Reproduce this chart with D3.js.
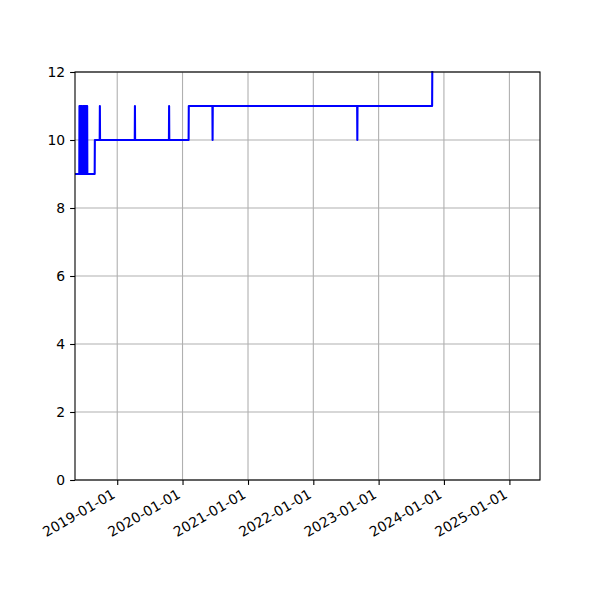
<!DOCTYPE html>
<html>
<head>
<meta charset="utf-8">
<script src="https://cdn.jsdelivr.net/npm/d3@7"></script>
<style>
  body { margin: 0; background: #fff; }
  svg { display: block; }
  text { font-family: "DejaVu Sans", sans-serif; font-size: 13.9px; fill: #000; }
</style>
</head>
<body>
<div id="chart"></div>
<script>
// observations: date and value
var dates = [
  '2018-05-15', '2018-06-03', '2018-06-04', '2018-06-08', '2018-06-09', '2018-06-11',
  '2018-06-15', '2018-06-16', '2018-06-19', '2018-06-23', '2018-06-25', '2018-06-30',
  '2018-07-01', '2018-07-04', '2018-07-07', '2018-07-09', '2018-07-14', '2018-07-15',
  '2018-07-17', '2018-07-18', '2018-08-28', '2018-08-29', '2018-09-25', '2018-09-26',
  '2018-09-27', '2019-04-09', '2019-04-10', '2019-04-11', '2019-10-17', '2019-10-18',
  '2019-10-19', '2020-02-04', '2020-02-05', '2020-06-16', '2020-06-17', '2020-06-18',
  '2022-09-03', '2022-09-04', '2022-09-05', '2023-10-27', '2023-10-28'
];
var values = [
  9, 9, 11, 11, 9, 11,
  11, 9, 11, 9, 11, 11,
  9, 11, 9, 11, 11, 9,
  11, 9, 9, 10, 10, 11,
  10, 10, 11, 10, 10, 11,
  10, 10, 11, 11, 10, 11,
  11, 10, 11, 11, 12
];
var xTicks = ['2019-01-01', '2020-01-01', '2021-01-01', '2022-01-01', '2023-01-01', '2024-01-01', '2025-01-01'];
var yTicks = [0, 2, 4, 6, 8, 10, 12];
var xDomain = ['2018-05-10', '2025-06-21'];
var yDomain = [0, 12];

var parse = d3.timeParse('%Y-%m-%d');
var fmt = d3.timeFormat('%Y-%m-%d');
var data = dates.map(function(d, i) {
  return { date: parse(d), value: values[i] };
});

// Create SVG Element
var width = 600;
var height = 600;
var plotLeft = 75, plotRight = 540, plotTop = 72, plotBottom = 480;

var svg = d3.select('#chart')
    .append('svg')
    .attr('width', width)
    .attr('height', height);

// Create Scale
var scaleX = d3.scaleTime()
    .domain(xDomain.map(parse))
    .range([plotLeft, plotRight]);

var scaleY = d3.scaleLinear()
    .domain(yDomain)
    .range([plotBottom, plotTop]);

var tickDates = xTicks.map(parse);

// Grid
svg.append('g')
    .selectAll('line')
    .data(tickDates)
    .enter()
    .append('line')
    .attr('x1', function(d) { return scaleX(d); })
    .attr('x2', function(d) { return scaleX(d); })
    .attr('y1', plotTop)
    .attr('y2', plotBottom)
    .attr('stroke', '#b0b0b0')
    .attr('stroke-width', 1.1);

svg.append('g')
    .selectAll('line')
    .data(yTicks)
    .enter()
    .append('line')
    .attr('x1', plotLeft)
    .attr('x2', plotRight)
    .attr('y1', function(d) { return scaleY(d); })
    .attr('y2', function(d) { return scaleY(d); })
    .attr('stroke', '#b0b0b0')
    .attr('stroke-width', 1.1);

// Line
svg.append('defs').append('clipPath')
    .attr('id', 'clip')
    .append('rect')
    .attr('x', plotLeft)
    .attr('y', plotTop - 2)
    .attr('width', plotRight - plotLeft)
    .attr('height', plotBottom - plotTop + 4);

var line = d3.line()
    .x(function(d) { return scaleX(d.date); })
    .y(function(d) { return scaleY(d.value); });

svg.append('path')
    .datum(data)
    .attr('d', line)
    .attr('clip-path', 'url(#clip)')
    .attr('fill', 'none')
    .attr('stroke', '#0000ff')
    .attr('stroke-width', 2.08)
    .attr('stroke-linejoin', 'round')
    .attr('stroke-linecap', 'square');

// Axes
var xAxis = d3.axisBottom(scaleX)
    .tickValues(tickDates)
    .tickSize(4.9)
    .tickPadding(4.9)
    .tickFormat(fmt);

var gx = svg.append('g')
    .attr('transform', 'translate(0,' + plotBottom + ')')
    .call(xAxis);
gx.select('.domain').remove();
gx.selectAll('line').attr('stroke', '#000').attr('stroke-width', 1.1);
gx.selectAll('text')
    .attr('y', 0)
    .attr('dy', 0)
    .attr('text-anchor', 'end')
    .attr('transform', 'translate(-1.5,17) rotate(-30)')
    .style('font-family', '"DejaVu Sans", sans-serif')
    .style('font-size', '13.9px');

var yAxis = d3.axisLeft(scaleY)
    .tickValues(yTicks)
    .tickSize(4.9)
    .tickPadding(4.9);

var gy = svg.append('g')
    .attr('transform', 'translate(' + plotLeft + ',0)')
    .call(yAxis);
gy.select('.domain').remove();
gy.selectAll('line').attr('stroke', '#000').attr('stroke-width', 1.1);
gy.selectAll('text')
    .style('font-family', '"DejaVu Sans", sans-serif')
    .style('font-size', '13.9px');

// Frame
svg.append('rect')
    .attr('x', plotLeft)
    .attr('y', plotTop)
    .attr('width', plotRight - plotLeft)
    .attr('height', plotBottom - plotTop)
    .attr('fill', 'none')
    .attr('stroke', '#000')
    .attr('stroke-width', 1.1);
</script>
</body>
</html>
